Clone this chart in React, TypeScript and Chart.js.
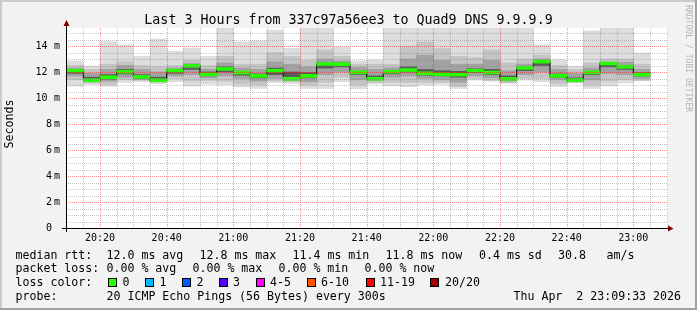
import React, { useEffect, useRef } from 'react';
import { Chart, registerables } from 'chart.js';

Chart.register(...registerables);

// 5-minute slots (start time of each column)
const slots = [
  '20:10', '20:15', '20:20', '20:25', '20:30', '20:35', '20:40', '20:45', '20:50', '20:55',
  '21:00', '21:05', '21:10', '21:15', '21:20', '21:25', '21:30', '21:35', '21:40', '21:45',
  '21:50', '21:55', '22:00', '22:05', '22:10', '22:15', '22:20', '22:25', '22:30', '22:35',
  '22:40', '22:45', '22:50', '22:55', '23:00',
];

// RTT distribution per slot (ms)
const maxV = [12.85, 12.46, 14.33, 14.08, 13.2, 14.54, 13.6, 13.85, 13.2, 15.5, 14.32, 14.4, 15.23, 13.83, 15.5, 15.5, 13.9, 12.86, 12.92, 15.5, 15.5, 15.5, 15.5, 15.5, 15.5, 15.5, 15.5, 15.5, 14.08, 12.95, 12.44, 15.16, 15.5, 15.5, 13.47];
const p90 = [12.5, 12.2, 12.6, 12.8, 12.5, 12.4, 12.5, 12.9, 12.5, 13.2, 12.6, 12.6, 13.5, 13.2, 12.9, 13.7, 13.2, 12.6, 12.6, 12.6, 14.0, 14.3, 13.8, 13.2, 13.1, 13.7, 12.7, 13.0, 13.3, 12.5, 12.2, 12.7, 13.0, 13.0, 12.6];
const p75 = [12.3, 11.9, 12.2, 12.5, 12.2, 12.0, 12.3, 12.65, 12.2, 12.7, 12.3, 12.2, 12.8, 12.6, 12.4, 13.0, 12.85, 12.35, 12.2, 12.3, 13.0, 13.3, 12.9, 12.6, 12.6, 12.9, 12.1, 12.6, 13.0, 12.2, 11.9, 12.3, 12.75, 12.75, 12.2];
const p60 = [12.2, 11.6, 11.8, 12.2, 11.8, 11.6, 12.2, 12.55, 12.0, 12.4, 12.05, 11.85, 12.3, 12.0, 11.95, 12.7, 12.68, 12.05, 11.7, 12.1, 12.4, 12.2, 12.1, 12.05, 12.25, 12.2, 11.7, 12.4, 12.85, 11.85, 11.55, 12.05, 12.7, 12.5, 11.95];
const median = [12.1, 11.37, 11.6, 12.02, 11.62, 11.37, 12.1, 12.47, 11.82, 12.24, 11.95, 11.7, 12.1, 11.48, 11.7, 12.62, 12.6, 11.97, 11.48, 12.02, 12.15, 11.9, 11.82, 11.8, 12.1, 11.96, 11.47, 12.32, 12.8, 11.71, 11.38, 11.97, 12.65, 12.4, 11.8];
const p40 = [11.9, 11.3, 11.45, 11.85, 11.5, 11.32, 11.9, 12.2, 11.7, 12.0, 11.75, 11.55, 11.8, 11.42, 11.55, 12.3, 12.4, 11.8, 11.42, 11.85, 12.0, 11.75, 11.7, 11.6, 11.95, 11.8, 11.4, 12.1, 12.5, 11.6, 11.33, 11.8, 12.4, 12.2, 11.7];
const p25 = [11.7, 11.25, 11.3, 11.6, 11.42, 11.27, 11.7, 11.8, 11.55, 11.7, 11.5, 11.3, 11.5, 11.35, 11.25, 11.8, 12.0, 11.4, 11.35, 11.6, 11.7, 11.5, 11.4, 11.2, 11.7, 11.55, 11.3, 11.8, 12.0, 11.4, 11.28, 11.4, 11.9, 11.8, 11.5];
const p10 = [11.4, 11.15, 11.05, 11.4, 11.35, 11.2, 11.5, 11.3, 11.35, 11.3, 11.1, 11.0, 11.3, 11.25, 11.0, 11.2, 11.6, 11.0, 11.2, 11.2, 11.2, 11.2, 11.2, 10.9, 11.5, 11.35, 11.2, 11.5, 11.5, 11.1, 11.2, 11.0, 11.3, 11.4, 11.35];
const minV = [10.92, 11.05, 10.9, 11.2, 11.26, 11.1, 11.26, 10.92, 11.05, 11.0, 10.85, 10.74, 11.2, 11.12, 10.74, 10.74, 11.26, 10.7, 11.08, 10.93, 10.87, 11.0, 11.05, 10.74, 11.37, 11.3, 11.13, 11.38, 11.26, 10.9, 11.15, 10.74, 10.93, 11.15, 11.32];

// axis range (minutes after 20:00) and value range (ms)
const xStart = 10.1;
const xEnd = 190.4;
const yMax = 200 / 13;
const slotMinutes = 5;
const majorXEvery = 20; // minutes
const majorYEvery = 2; // ms

// text content
const titleText = 'Last 3 Hours from 337c97a56ee3 to Quad9 DNS 9.9.9.9';
const yTitle = 'Seconds';
const yUnit = 'm';
const rttLabel = 'median rtt:';
const rttStats = ['12.0 ms avg', '12.8 ms max', '11.4 ms min', '11.8 ms now', '0.4 ms sd', '30.8', 'am/s'];
const lossLabel = 'packet loss:';
const lossStats = ['0.00 % avg', '0.00 % max', '0.00 % min', '0.00 % now'];
const colorLabel = 'loss color:';
const lossNames = ['0', '1', '2', '3', '4-5', '6-10', '11-19', '20/20'];
const lossColors = ['#26ff00', '#00b8ff', '#0059ff', '#5e00ff', '#ff00ff', '#ff5500', '#ff0000', '#a10000'];
const probeLabel = 'probe:';
const probeText = '20 ICMP Echo Pings (56 Bytes) every 300s';
const stampText = 'Thu Apr  2 23:09:33 2026';
const watermark = 'RRDTOOL / TOBI OETIKER';

const MONO = '"DejaVu Sans Mono", monospace';

function toMin(s: string): number {
  const [h, m] = s.split(':').map(Number);
  return (h - 20) * 60 + m;
}

function fmtTime(v: number): string {
  const t = Math.round(v);
  const h = 20 + Math.floor(t / 60);
  const m = t % 60;
  return `${h}:${m < 10 ? '0' + m : m}`;
}

export default function App() {
  const ref = useRef<HTMLCanvasElement>(null);

  useEffect(() => {
    const canvas = ref.current;
    if (!canvas) return;

    const centers = slots.map((s) => toMin(s) + slotMinutes / 2);
    const band = (lo: number[], hi: number[]) =>
      slots.map((_, i) => ({ x: centers[i], y: [lo[i], hi[i]] }));
    const bars = (data: any[], color: string, order: number) => ({
      type: 'bar' as const,
      data,
      backgroundColor: color,
      borderWidth: 0,
      grouped: false,
      barPercentage: 1,
      categoryPercentage: 1,
      clip: 0,
      order,
    });
    const medianBand = slots.map((_, i) => ({ x: centers[i], y: [median[i] - 0.115, median[i] + 0.115] }));
    const stepPts = slots.map((s, i) => ({ x: toMin(s), y: median[i] }));
    stepPts.push({ x: toMin(slots[slots.length - 1]) + slotMinutes, y: median[median.length - 1] });

    const gray = 'rgba(120,120,120,0.42)';
    const red = 'rgba(255,0,0,0.45)';

    const decor = {
      id: 'decor',
      beforeDraw(chart: any) {
        const { ctx, chartArea: a } = chart;
        ctx.save();
        ctx.fillStyle = '#f2f2f2';
        ctx.fillRect(0, 0, chart.width, chart.height);
        ctx.fillStyle = '#ffffff';
        ctx.fillRect(a.left, a.top, a.right - a.left, a.bottom - a.top);
        ctx.restore();
      },
      afterDatasetsDraw(chart: any) {
        // dotted grid from the scales' ticks, on top of the smoke
        const { ctx, chartArea: a } = chart;
        const xs = chart.scales.x;
        const ys = chart.scales.y;
        ctx.save();
        for (const t of xs.ticks) {
          const px = Math.round(xs.getPixelForValue(t.value));
          if (px < a.left || px >= a.right) continue;
          ctx.fillStyle = Math.round(t.value) % majorXEvery === 0 ? red : gray;
          for (let yy = Math.ceil(a.top); yy < a.bottom; yy += 2) ctx.fillRect(px, yy, 1, 1);
        }
        for (const t of ys.ticks) {
          if (t.value === 0) continue;
          const py = Math.round(ys.getPixelForValue(t.value));
          const major = Math.abs(t.value / majorYEvery - Math.round(t.value / majorYEvery)) < 1e-6;
          ctx.fillStyle = major ? red : gray;
          for (let xx = Math.round(a.left) + 1; xx < a.right; xx += 2) ctx.fillRect(xx, py, 1, 1);
        }
        ctx.restore();
      },
      afterDraw(chart: any) {
        const { ctx, chartArea: a } = chart;
        const W = chart.width;
        const H = chart.height;
        const ys = chart.scales.y;
        ctx.save();
        // axes
        ctx.strokeStyle = '#000';
        ctx.lineWidth = 1;
        ctx.beginPath();
        ctx.moveTo(a.left - 5, a.bottom + 0.5);
        ctx.lineTo(a.right + 2, a.bottom + 0.5);
        ctx.moveTo(a.left - 0.5, a.bottom + 4);
        ctx.lineTo(a.left - 0.5, a.top - 4);
        ctx.stroke();
        // arrows
        ctx.fillStyle = '#800000';
        ctx.beginPath();
        ctx.moveTo(a.right, a.bottom - 2.5);
        ctx.lineTo(a.right + 5.5, a.bottom + 0.5);
        ctx.lineTo(a.right, a.bottom + 3.5);
        ctx.closePath();
        ctx.fill();
        ctx.beginPath();
        ctx.moveTo(a.left - 3.5, a.top - 2);
        ctx.lineTo(a.left - 0.5, a.top - 8);
        ctx.lineTo(a.left + 2.5, a.top - 2);
        ctx.closePath();
        ctx.fill();

        // y tick labels from the scale's ticks
        ctx.fillStyle = '#000';
        ctx.font = `10px ${MONO}`;
        ctx.textBaseline = 'middle';
        for (const t of ys.ticks) {
          const v = t.value;
          if (Math.abs(v / majorYEvery - Math.round(v / majorYEvery)) > 1e-6) continue;
          const py = ys.getPixelForValue(v) + 0.5;
          const num = String(Math.round(v));
          if (num.length >= 2) {
            ctx.textAlign = 'right';
            ctx.fillText(num, 47.5, py);
          } else {
            ctx.textAlign = 'left';
            ctx.fillText(num, 46, py);
          }
          if (v !== 0) {
            ctx.textAlign = 'left';
            ctx.fillText(yUnit, 54, py);
          }
        }

        // title
        ctx.font = `13.3px ${MONO}`;
        ctx.textAlign = 'center';
        ctx.textBaseline = 'alphabetic';
        ctx.fillText(titleText, W / 2, 24);

        // y title
        ctx.save();
        ctx.font = `11.6px ${MONO}`;
        ctx.translate(10, 124);
        ctx.rotate(-Math.PI / 2);
        ctx.textAlign = 'center';
        ctx.textBaseline = 'middle';
        ctx.fillText(yTitle, 0, 0);
        ctx.restore();

        // watermark
        ctx.save();
        ctx.font = `8.1px ${MONO}`;
        ctx.fillStyle = '#b4b4b4';
        ctx.translate(688, 5);
        ctx.rotate(Math.PI / 2);
        ctx.textAlign = 'left';
        ctx.textBaseline = 'middle';
        ctx.fillText(watermark, 0, 0);
        ctx.restore();

        // legend
        ctx.font = `11.6px ${MONO}`;
        ctx.textAlign = 'left';
        ctx.textBaseline = 'alphabetic';
        ctx.fillStyle = '#000';
        const rows = [258.5, 272.2, 285.9, 299.6];
        ctx.fillText(rttLabel, 15.5, rows[0]);
        const rttX = [106.5, 199.5, 292.5, 385.5, 479, 558, 606.5];
        rttStats.forEach((t, i) => ctx.fillText(t, rttX[i], rows[0]));
        ctx.fillText(lossLabel, 15.5, rows[1]);
        const lossX = [106.5, 192.5, 278.5, 364.5];
        lossStats.forEach((t, i) => ctx.fillText(t, lossX[i], rows[1]));
        ctx.fillText(colorLabel, 15.5, rows[2]);
        const boxX = [108, 145, 182, 219, 256, 307, 366, 430];
        const nameX = [122.5, 159.5, 196.5, 233, 270, 321, 380, 445];
        lossNames.forEach((t, i) => {
          ctx.fillStyle = lossColors[i];
          ctx.fillRect(boxX[i], 278, 9, 9);
          ctx.strokeStyle = '#000';
          ctx.strokeRect(boxX[i] + 0.5, 278.5, 8, 8);
          ctx.fillStyle = '#000';
          ctx.fillText(t, nameX[i], rows[2]);
        });
        ctx.fillText(probeLabel, 15.5, rows[3]);
        ctx.fillText(probeText, 106.5, rows[3]);
        ctx.textAlign = 'right';
        ctx.fillText(stampText, 681, rows[3]);

        // frame
        ctx.fillStyle = '#cbcbcb';
        ctx.fillRect(0, 0, W, 2);
        ctx.fillRect(0, 0, 2, H);
        ctx.fillStyle = '#9f9f9f';
        ctx.fillRect(0, H - 2, W, 2);
        ctx.fillRect(W - 2, 0, 2, H);
        ctx.restore();
      },
    };

    const chart = new Chart(canvas, {
      type: 'bar',
      data: {
        datasets: [
          bars(band(minV, maxV), '#dddddd', 6),
          bars(band(p10, p90), '#c4c4c4', 5),
          bars(band(p25, p75), '#a2a2a2', 4),
          bars(band(p40, p60), '#5a5a5a', 3),
          {
            type: 'line' as const,
            data: stepPts,
            borderColor: '#000000',
            borderWidth: 1,
            stepped: true,
            pointRadius: 0,
            fill: false,
            order: 2,
          },
          bars(medianBand, '#26ff00', 1),
        ] as any,
      },
      options: {
        responsive: false,
        animation: false,
        devicePixelRatio: 1,
        events: [],
        layout: { padding: { left: 0, top: 28, right: 29, bottom: 0 } },
        plugins: {
          legend: { display: false },
          tooltip: { enabled: false },
          title: { display: false },
        },
        scales: {
          x: {
            type: 'linear',
            min: xStart,
            max: xEnd,
            offset: false,
            afterFit: (s: any) => {
              s.height = 82;
            },
            grid: { display: false, offset: false, drawTicks: false },
            border: { display: false },
            ticks: {
              stepSize: slotMinutes,
              includeBounds: false,
              autoSkip: false,
              maxRotation: 0,
              minRotation: 0,
              padding: 4,
              color: '#000',
              font: { family: MONO, size: 10 },
              callback: (v: any) => (Math.round(Number(v)) % majorXEvery === 0 ? fmtTime(Number(v)) : ''),
            },
          },
          y: {
            type: 'linear',
            min: 0,
            max: yMax,
            afterFit: (s: any) => {
              s.width = 67;
            },
            grid: { display: false, drawTicks: false },
            border: { display: false },
            ticks: {
              display: false,
              stepSize: 0.5,
              includeBounds: false,
              autoSkip: false,
            },
          },
        },
      } as any,
      plugins: [decor],
    });

    return () => chart.destroy();
  }, []);

  return (
    <div style={{ position: 'absolute', left: 0, top: 0, width: 697, height: 310 }}>
      <canvas ref={ref} width={697} height={310} style={{ display: 'block', width: 697, height: 310 }} />
    </div>
  );
}
